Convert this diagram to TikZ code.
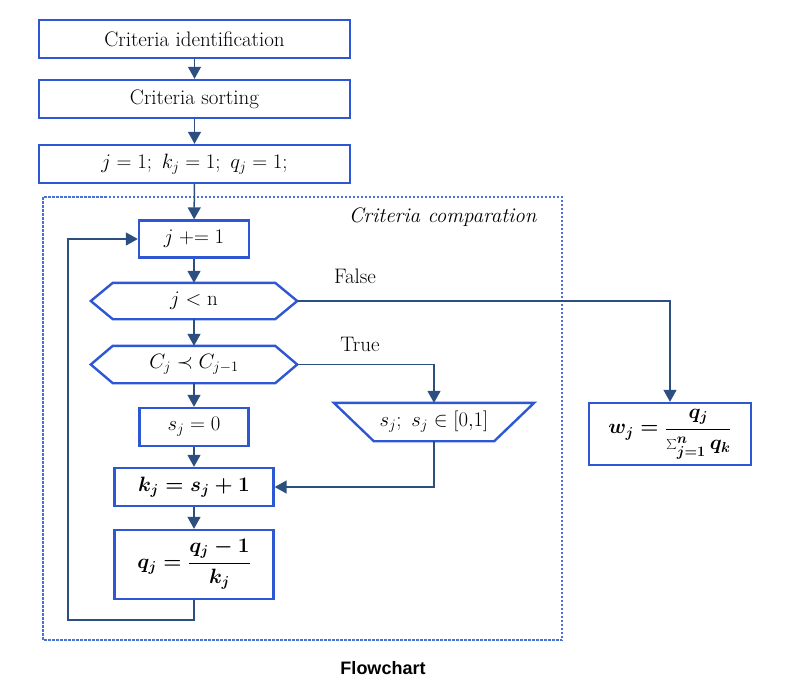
\documentclass[tikz,border=0pt]{standalone}
\usepackage{fontspec}
\newfontfamily\capfont{Liberation Sans}
\usetikzlibrary{arrows.meta,calc}
\definecolor{boxblue}{HTML}{2E57D4}
\definecolor{arrblue}{HTML}{2C4F80}
\definecolor{dashblue}{HTML}{4A72D6}
\begin{document}
\begin{tikzpicture}[x=1pt,y=-1pt,
  txt/.style={font=\fontsize{21}{24}\selectfont},
  box/.style={txt,draw=boxblue,line width=2.4pt,fill=white,rectangle,inner sep=0pt},
  boldm/.style={font=\fontsize{21}{24}\selectfont\boldmath},
  shp/.style={txt,inner sep=0pt},
  outl/.style={draw=boxblue,line width=2.4pt,fill=white},
  arr/.style={draw=arrblue,line width=1.5pt,-{Triangle[length=12pt,width=13pt]}},
  lbl/.style={txt}]
\useasboundingbox (0,0) rectangle (798,691);

% dashed region
\draw[dashblue,line width=1.5pt,dash pattern=on 2.5pt off 1.5pt] (43,197) rectangle (562,640);
\node[anchor=east,font=\fontsize{21}{24}\selectfont\itshape] (cc) at (540,217) {Criteria comparation};

% top boxes
\node[box,minimum width=311pt,minimum height=38pt] (b1) at (194.5,39) {Criteria identification};
\node[box,minimum width=311pt,minimum height=38pt] (b2) at (194.5,99) {Criteria sorting};
\node[box,minimum width=311pt,minimum height=38pt] (b3) at (194.5,164) {$j = 1;\ k_j = 1;\ q_j = 1;$};

% inner
\node[box,minimum width=110pt,minimum height=37pt] (inc) at (194,239) {$j \mathrel{+}= 1$};

\node[shp,minimum width=206pt,minimum height=36pt] (h1) at (194,301) {};
\draw[outl] (h1.west) -- ([xshift=22pt]h1.north west) -- ([xshift=-22pt]h1.north east) -- (h1.east)
  -- ([xshift=-22pt]h1.south east) -- ([xshift=22pt]h1.south west) -- cycle;
\node[shp] at (h1) {$j < \mathrm{n}$};

\node[shp,minimum width=206pt,minimum height=37pt] (h2) at (194,364.5) {};
\draw[outl] (h2.west) -- ([xshift=22pt]h2.north west) -- ([xshift=-22pt]h2.north east) -- (h2.east)
  -- ([xshift=-22pt]h2.south east) -- ([xshift=22pt]h2.south west) -- cycle;
\node[shp] at (h2) {$C_j \prec C_{j-1}$};

\node[box,minimum width=109pt,minimum height=38pt] (s0) at (194,427) {$s_j = 0$};

\node[shp,minimum width=200pt,minimum height=38pt] (trap) at (434,422) {};
\draw[outl] (trap.north west) -- (trap.north east) -- ([xshift=-40pt]trap.south east)
  -- ([xshift=40pt]trap.south west) -- cycle;
\node[shp] at (trap) {$s_j;\ s_j \in [0{,}1]$};

\node[box,boldm,minimum width=159pt,minimum height=38pt] (kb) at (194,487) {$k_j = s_j + 1$};
\node[box,boldm,minimum width=159pt,minimum height=69pt] (qb) at (194,564.5) {$\displaystyle q_j = \frac{q_j - 1}{k_j}$};

\node[box,boldm,minimum width=162pt,minimum height=62pt] (wb) at (670,434) {$\displaystyle w_j = \frac{q_j}{\sum_{j=1}^{n} q_k}$};

% labels
\node[lbl] (lf) at (355,276) {False};
\node[lbl] (lt) at (360,344) {True};

% connectors
\draw[arr] (b1) -- (b2);
\draw[arr] (b2) -- (b3);
\draw[arr] (b3) -- (inc);
\draw[arr] (inc) -- (h1.north);
\draw[arr] (h1.south) -- (h2.north);
\draw[arr] (h2.south) -- (s0);
\draw[arr] (s0) -- (kb);
\draw[arr] (kb) -- (qb);
\draw[arr] (h1.east) -| (wb.north);
\draw[arr] (h2.east) -| (trap.north);
\draw[arr] (trap.south) |- (kb.east);
\coordinate (lc) at (68,620);
\draw[arr] (qb.south) |- (lc) |- (inc.west);

% caption
\node[font=\fontsize{18}{21}\selectfont\capfont\bfseries] (cap) at (383,668) {Flowchart};
\end{tikzpicture}
\end{document}
